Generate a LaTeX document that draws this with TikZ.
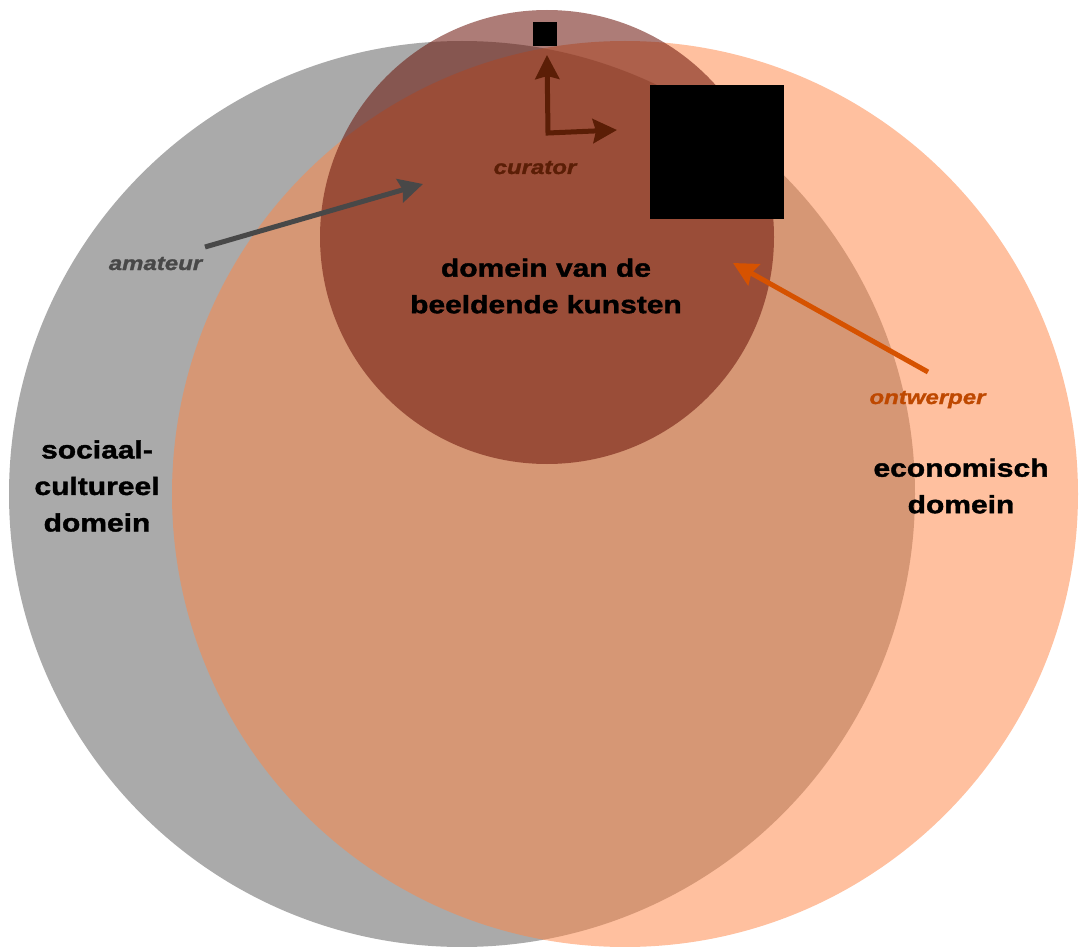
\documentclass[tikz,border=0pt]{standalone}
\usepackage{fontspec}
\setmainfont{Liberation Sans}[FakeStretch=1.2, BoldFeatures={FakeBold=1.5}, BoldItalicFeatures={FakeBold=1.2}]
\usetikzlibrary{arrows.meta}
\definecolor{socgray}{HTML}{AAAAAA}
\definecolor{ecoorange}{RGB}{255,134,70}
\definecolor{kunstbrown}{RGB}{105,17,7}
\definecolor{amacol}{HTML}{484848}
\definecolor{curcol}{HTML}{5B1E06}
\definecolor{ontarrow}{HTML}{D65200}
\definecolor{onttext}{HTML}{BE4800}
\tikzset{
  domaincircle/.style={circle, inner sep=0pt, outer sep=0pt, draw=none},
  bigtext/.style={font=\bfseries\fontsize{25}{36.5}\selectfont, align=center, inner sep=0pt, text=black},
  roletext/.style={font=\bfseries\itshape\fontsize{20}{24}\selectfont, inner sep=0pt, anchor=base},
  rolearrow/.style={line width=5pt, -{Stealth[length=24pt, width=24pt, inset=3pt]}},
  blackbox/.style={fill=black, draw=none, inner sep=0pt, outer sep=0pt}
}
\begin{document}
\begin{tikzpicture}[x=1pt, y=-1pt]
\useasboundingbox (0,0) rectangle (1080,947);
% domains
\node[domaincircle, minimum size=906pt, fill=socgray] (soc) at (462,494) {};
\node[domaincircle, minimum size=906pt, fill=ecoorange, fill opacity=0.52] (eco) at (625,494) {};
\node[domaincircle, minimum size=454pt, fill=kunstbrown, fill opacity=0.55] (kunst) at (547,237) {};
% black squares
\node[blackbox, minimum size=24pt] (small) at (545,34) {};
\node[blackbox, minimum size=134pt] (large) at (717,152) {};
% labels
\node[bigtext] (kunstlabel) at (546,286) {domein van de\\beeldende kunsten};
\node[bigtext] (soclabel) at (97,486) {sociaal-\\cultureel\\domein};
\node[bigtext] (ecolabel) at (961,486) {economisch\\domein};
\node[roletext, text=curcol] (curator) at (535,174) {curator};
\node[roletext, text=amacol] (amateur) at (155.5,270) {amateur};
\node[roletext, text=onttext] (ontwerper) at (927.5,404) {ontwerper};
% arrow coordinates
\coordinate (amaS) at (205,247);
\coordinate (amaE) at (423,184);
\coordinate (ontS) at (928,372);
\coordinate (ontE) at (733,263);
\coordinate (curUp) at (547,55);
\coordinate (curC) at (548,133);
\coordinate (curR) at (617,130);
% arrows
\draw[rolearrow, amacol] (amaS) -- (amaE);
\draw[rolearrow, ontarrow] (ontS) -- (ontE);
\draw[line width=5pt, curcol, line join=miter, {Stealth[length=24pt, width=24pt, inset=3pt]}-{Stealth[length=24pt, width=24pt, inset=3pt]}] (curUp) -- (curC) -- (curR);
\end{tikzpicture}
\end{document}
